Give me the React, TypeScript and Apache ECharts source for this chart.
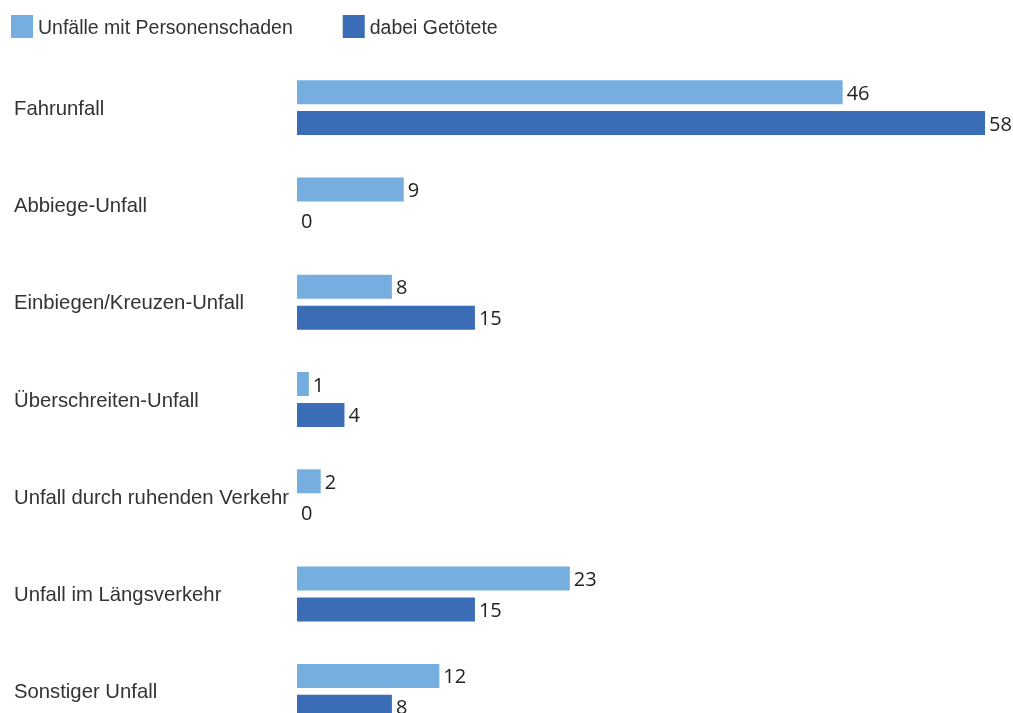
import React, { useEffect, useRef } from "react";
import * as echarts from "echarts";

const categories = [
  "Fahrunfall",
  "Abbiege-Unfall",
  "Einbiegen/Kreuzen-Unfall",
  "Überschreiten-Unfall",
  "Unfall durch ruhenden Verkehr",
  "Unfall im Längsverkehr",
  "Sonstiger Unfall",
];
const seriesNames = ["Unfälle mit Personenschaden", "dabei Getötete"];
const unfaelle = [46, 9, 8, 1, 2, 23, 12];
const getoetete = [58, 0, 15, 4, 0, 15, 8];
const colors = ["#77aee0", "#3a6db5"];

export default function App() {
  const ref = useRef<HTMLDivElement>(null);
  useEffect(() => {
    if (!ref.current) return;
    const chart = echarts.init(ref.current, undefined, { renderer: "svg" });
    const font = "Liberation Sans";
    const label = {
      show: true,
      position: "right" as const,
      distance: 4,
      fontFamily: "Open Sans",
      fontSize: 20,
      fontWeight: 500,
      color: "#222",
    };
    chart.setOption({
      animation: false,
      textStyle: { fontFamily: font },
      legend: {
        left: 11,
        top: 15,
        padding: 0,
        itemWidth: 22,
        itemHeight: 23,
        itemGap: 50,
        icon: "rect",
        textStyle: { fontFamily: font, fontSize: 19.5, color: "#333", padding: [0, 0, 0, 0] },
        data: seriesNames,
      },
      grid: {
        left: 297,
        top: 59,
        width: 688,
        height: 681,
        outerBoundsMode: "none",
        containLabel: false,
      },
      xAxis: { type: "value", min: 0, max: 58, show: false },
      yAxis: {
        type: "category",
        inverse: true,
        data: categories,
        axisLine: { show: false },
        axisTick: { show: false },
        axisLabel: {
          align: "left",
          margin: 283,
          fontFamily: font,
          fontSize: 20.3,
          color: "#333",
        },
      },
      series: [
        {
          name: seriesNames[0],
          type: "bar",
          data: unfaelle,
          barWidth: 24,
          barGap: "29%",
          itemStyle: { color: colors[0] },
          label,
        },
        {
          name: seriesNames[1],
          type: "bar",
          data: getoetete,
          barWidth: 24,
          itemStyle: { color: colors[1] },
          label,
        },
      ],
    });
    return () => chart.dispose();
  }, []);
  return (
    <div
      ref={ref}
      style={{ position: "fixed", left: 0, top: 0, width: 1013, height: 713 }}
    />
  );
}
